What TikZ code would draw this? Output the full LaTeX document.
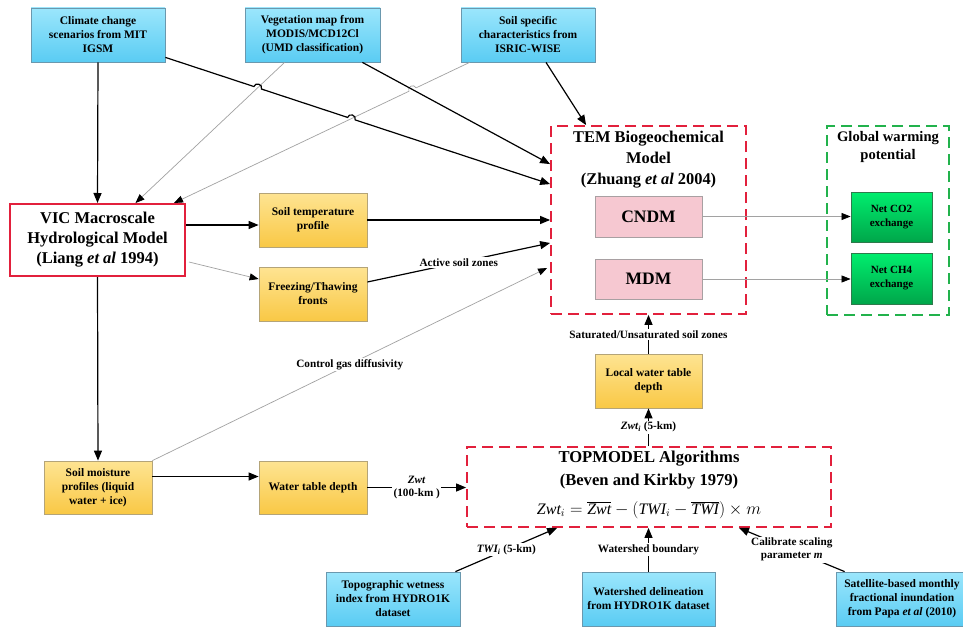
\documentclass[tikz,border=0pt]{standalone}
\usepackage{fontspec}
\setmainfont{Liberation Serif}
\usetikzlibrary{arrows.meta,calc,intersections}
\definecolor{cyantop}{HTML}{9BE6FC}
\definecolor{cyanbot}{HTML}{5ACCF3}
\definecolor{cyanedge}{HTML}{6A98AE}
\definecolor{yeltop}{HTML}{FEE492}
\definecolor{yelbot}{HTML}{F9C845}
\definecolor{yeledge}{HTML}{B4A478}
\definecolor{pinkfill}{HTML}{F6C8D1}
\definecolor{pinkedge}{HTML}{A8A0A2}
\definecolor{greentop}{HTML}{00EE6E}
\definecolor{greenbot}{HTML}{00A64A}
\definecolor{greenedge}{HTML}{2E7A4C}
\definecolor{reddash}{HTML}{E2203C}
\definecolor{greendash}{HTML}{22B24C}
\definecolor{grayline}{HTML}{A2A2A2}
\tikzset{
  basebox/.style={rectangle, align=center, inner sep=2pt, line width=0.8pt,
    font=\bfseries\fontsize{11.5}{14}\selectfont},
  cyanbox/.style={basebox, draw=cyanedge, top color=cyantop, bottom color=cyanbot},
  yelbox/.style={basebox, draw=yeledge, top color=yeltop, bottom color=yelbot},
  pinkbox/.style={basebox, draw=pinkedge, fill=pinkfill, font=\bfseries\fontsize{17.5}{20}\selectfont},
  greenbox/.style={basebox, draw=greenedge, top color=greentop, bottom color=greenbot,
    font=\bfseries\fontsize{11}{14}\selectfont},
  vicbox/.style={rectangle, align=center, draw=reddash, line width=2pt, fill=white,
    font=\bfseries\fontsize{16.5}{20}\selectfont},
  reddashbox/.style={rectangle, draw=reddash, line width=1.8pt, dash pattern=on 11pt off 6pt},
  greendashbox/.style={rectangle, draw=greendash, line width=1.8pt, dash pattern=on 11pt off 6pt},
  titletext/.style={align=center, inner sep=0pt, font=\bfseries\fontsize{16.4}{21}\selectfont},
  lbl/.style={fill=white, inner sep=1.5pt, align=center, font=\bfseries\fontsize{11.2}{13}\selectfont},
  thickarrow/.style={line width=1.2pt, -{Triangle[length=10pt,width=8pt]}},
  thinarrow/.style={draw=grayline, line width=0.7pt, -{Triangle[length=9pt,width=7pt,color=black]}},
  hop/.style={bend left=90, looseness=1.6},
  hopr/.style={bend right=90, looseness=1.6},
}
\begin{document}
\begin{tikzpicture}[x=1pt,y=-1pt]
\useasboundingbox (0,0) rectangle (963,626);
\fill[white] (0,0) rectangle (963,626);
\clip (0,0) rectangle (963,626);

% source boxes
\node[cyanbox, minimum width=134pt, minimum height=54pt] (clim) at (98,35) {Climate change\\scenarios from MIT\\IGSM};
\node[cyanbox, minimum width=135pt, minimum height=54pt] (veg) at (312.5,35) {Vegetation map from\\MODIS/MCD12Cl\\(UMD classification)};
\node[cyanbox, minimum width=134pt, minimum height=54pt] (soil) at (528,35) {Soil specific\\characteristics from\\ISRIC-WISE};

% VIC
\node[vicbox, minimum width=175pt, minimum height=72pt] (vic) at (97.5,240) {VIC Macroscale\\Hydrological Model\\(Liang \textit{et al} 1994)};

% yellow boxes
\node[yelbox, minimum width=108pt, minimum height=54pt] (stemp) at (313,220) {Soil temperature\\profile};
\node[yelbox, minimum width=108pt, minimum height=54pt] (freeze) at (313,294) {Freezing/Thawing\\fronts};
\node[yelbox, minimum width=108pt, minimum height=53pt] (smoist) at (98,487.5) {Soil moisture\\profiles (liquid\\water + ice)};
\node[yelbox, minimum width=108pt, minimum height=53pt] (wtd) at (313,487.5) {Water table depth};
\node[yelbox, minimum width=107pt, minimum height=54pt] (lwt) at (648.5,381) {Local water table\\depth};

% TEM
\node[reddashbox, minimum width=195pt, minimum height=188pt] (tem) at (648.5,220) {};
\node[titletext] (temtitle) at (648.5,160) {TEM Biogeochemical\\Model\\(Zhuang \textit{et al} 2004)};
\node[pinkbox, minimum width=107pt, minimum height=41pt] (cndm) at (648.5,216.5) {CNDM};
\node[pinkbox, minimum width=107pt, minimum height=40pt] (mdm) at (648.5,279) {MDM};

% GWP
\node[greendashbox, minimum width=122pt, minimum height=189pt] (gwp) at (888,220.5) {};
\node[titletext, font=\bfseries\fontsize{14.6}{18}\selectfont] (gwptitle) at (888,147) {Global warming\\potential};
\node[greenbox, minimum width=81pt, minimum height=50pt] (co2) at (891.5,217) {Net CO2\\exchange};
\node[greenbox, minimum width=81pt, minimum height=51pt] (ch4) at (891.5,278.5) {Net CH4\\exchange};

% TOPMODEL
\node[reddashbox, minimum width=364pt, minimum height=80pt] (top) at (649,487) {};
\node[titletext, font=\bfseries\fontsize{16.6}{23}\selectfont] (toptitle) at (649,470) {TOPMODEL Algorithms\\(Beven and Kirkby 1979)};
\node[inner sep=0pt, font=\fontsize{16}{20}\selectfont] (formula) at (649,510)
  {$\mathit{Zwt}_{i}=\overline{\mathit{Zwt}}-\left(\rule[-5pt]{0pt}{18pt}\mathit{TWI}_{i}-\overline{\mathit{TWI}}\right)\times m$};

% bottom sources
\node[cyanbox, minimum width=134pt, minimum height=54pt] (twi) at (393,599) {Topographic wetness\\index from HYDRO1K\\dataset};
\node[cyanbox, minimum width=133pt, minimum height=54pt] (wsd) at (648.5,599) {Watershed delineation\\from HYDRO1K dataset};
\node[cyanbox, minimum width=132pt, minimum height=54pt] (sat) at (902,599) {Satellite-based monthly\\fractional inundation\\from Papa \textit{et al} (2010)};

% ---------- connectors ----------
\coordinate (c1) at ($(clim.south east)+(0,-5)$);
\coordinate (c2) at ($(tem.north west)+(0,59)$);
\coordinate (g1a) at ($(veg.south west)+(40,0)$);
\coordinate (g1b) at ($(vic.north)+(38,0)$);
\coordinate (v1) at ($(veg.south east)+(-18,0)$);
\coordinate (v2) at ($(tem.north west)+(0,39)$);
\coordinate (g2a) at ($(soil.south west)+(9,0)$);
\coordinate (g2b) at ($(vic.north east)+(-12,0)$);

\path[name path=pc] (c1) -- (c2);
\path[name path=pg1] (g1a) -- (g1b);
\path[name path=pv] (v1) -- (v2);
\path[name path=pg2] (g2a) -- (g2b);
\path[name intersections={of=pc and pg1, by={X1}}];
\path[name intersections={of=pc and pg2, by={X2}}];
\path[name intersections={of=pv and pg2, by={X3}}];

% gray lines into VIC
\draw[thinarrow] (g1a) -- (g1b);
\draw[thinarrow] (g2a) -- ($(X3)!4pt!(g2a)$) to[hopr] ($(X3)!4pt!(g2b)$) -- (g2b);

% climate -> VIC, climate -> TEM (with hops)
\draw[thickarrow] (clim.south) -- (vic.north);
\draw[thickarrow] (c1) -- ($(X1)!4pt!(c1)$) to[hop] ($(X1)!4pt!(c2)$)
   -- ($(X2)!4pt!(c1)$) to[hop] ($(X2)!4pt!(c2)$) -- (c2);
% vegetation -> TEM
\draw[thickarrow] (v1) -- (v2);
% soil -> TEM
\draw[thickarrow] ($(soil.south)+(18,0)$) -- ($(tem.north west)+(36,0)$);

% VIC outputs
\draw[thickarrow] ($(vic.east)+(0,-15)$) coordinate (a1) -- (stemp.west |- a1);
\draw[thickarrow] (stemp.east) -- (tem.west);
\draw[thinarrow] ($(vic.east)+(3,22)$) -- ($(freeze.west)+(0,-15)$);
\draw[thickarrow] ($(freeze.east)+(0,-12)$) -- node[lbl, pos=0.5] {Active soil zones} ($(tem.west)+(0,23)$);
\draw[thinarrow] (smoist.north east) -- node[lbl, pos=0.5] {Control gas diffusivity} ($(tem.west)+(-3,48)$);
\draw[thickarrow] (vic.south) -- (smoist.north);
\draw[thickarrow] ($(smoist.east)+(0,-11)$) coordinate (a2) -- (wtd.west |- a2);
\draw[thickarrow] (wtd.east) -- node[lbl, pos=0.5] {\textit{Zwt}\\(100-km )} (top.west |- wtd.east);

% TEM -> GWP
\draw[thinarrow] (cndm.east) -- (co2.west |- cndm.east);
\draw[thinarrow] (mdm.east) -- (ch4.west |- mdm.east);

% TOPMODEL chain
\draw[thickarrow] (lwt.north) -- node[lbl, pos=0.5] {Saturated/Unsaturated soil zones} (tem.south);
\draw[thickarrow] (top.north -| lwt) -- node[lbl, pos=0.5] {\textit{Zwt\textsubscript{i}} (5-km)} (lwt.south);
\draw[thickarrow] ($(twi.north east)+(-5,0)$) -- node[lbl, pos=0.5] {\textit{TWI\textsubscript{i}} (5-km)} ($(top.south west)+(91,0)$);
\draw[thickarrow] (wsd.north) -- node[lbl, pos=0.5] {Watershed boundary} (wsd.north |- top.south);
\draw[thickarrow] ($(sat.north west)+(9,0)$) -- node[lbl, pos=0.5] {Calibrate scaling\\parameter \textit{m}} ($(top.south east)+(-93,0)$);

\end{tikzpicture}
\end{document}
